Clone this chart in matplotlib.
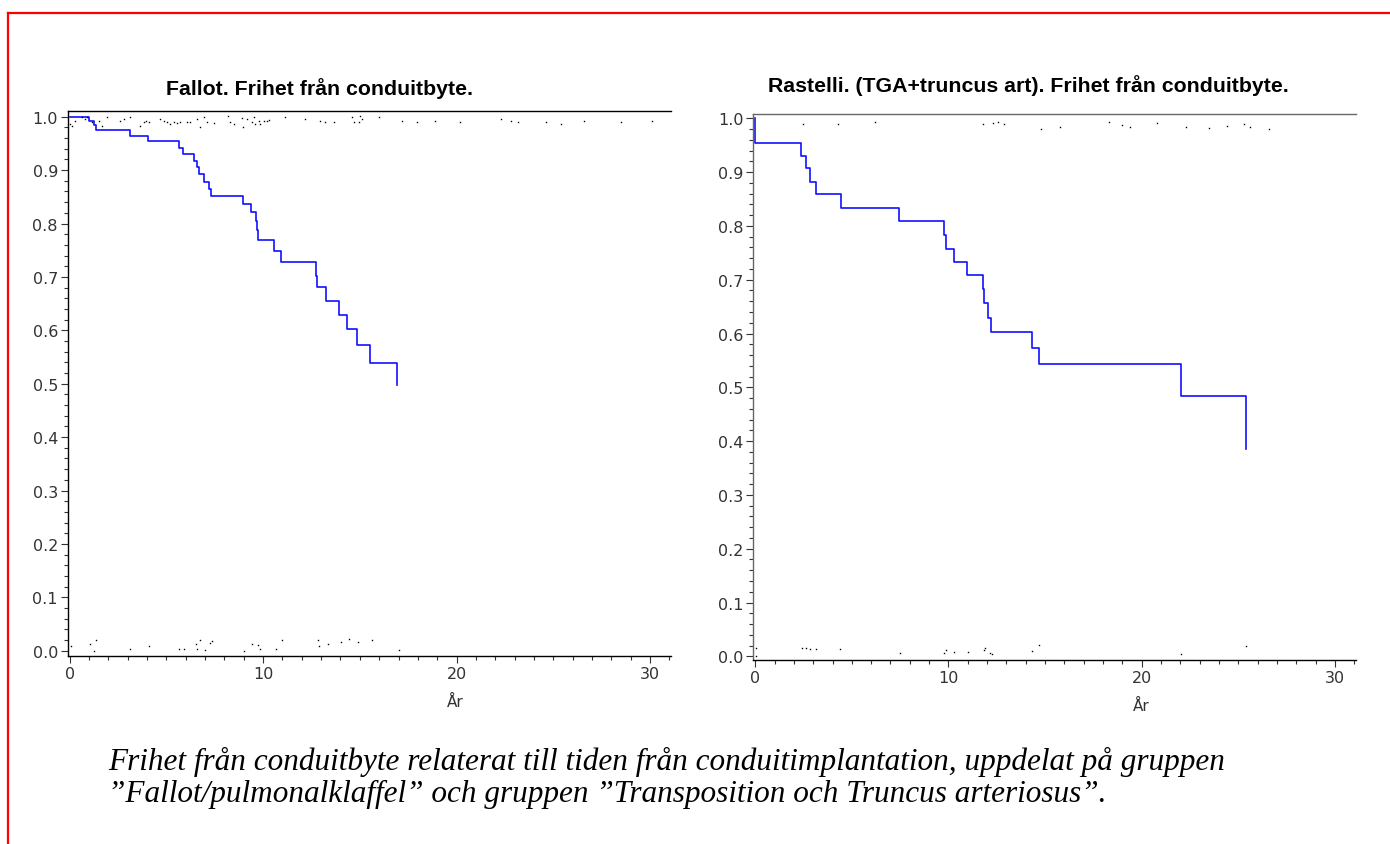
import matplotlib
matplotlib.use("Agg")
import matplotlib.pyplot as plt
from matplotlib.lines import Line2D
from matplotlib.ticker import MultipleLocator, FormatStrFormatter

# Fallot: Kaplan-Meier steps (years, survival)
fallot_t = [0, 1.02, 1.24, 1.38, 3.13, 4.04, 5.67, 5.88, 6.43, 6.57, 6.70, 6.96,
            7.22, 7.29, 8.94, 9.38, 9.61, 9.69, 9.76, 10.54, 10.95, 12.75, 12.80,
            13.23, 13.92, 14.35, 14.85, 15.54, 16.92]
fallot_s = [1.0, 0.9925, 0.9845, 0.9745, 0.9644, 0.9545, 0.9414, 0.9296, 0.917,
            0.905, 0.892, 0.878, 0.865, 0.852, 0.836, 0.822, 0.804, 0.787, 0.769,
            0.748, 0.727, 0.702, 0.681, 0.655, 0.628, 0.602, 0.572, 0.538, 0.498]

# Fallot: small marks at the top (censored) and bottom (events)
fallot_top_x = [0.04, 0.12, 0.29, 0.64, 0.81, 0.90, 1.16, 1.50, 1.67, 1.93, 2.62,
                2.79, 3.14, 3.62, 3.82, 3.95, 4.08, 4.69, 4.86, 5.03, 5.20, 5.37,
                5.55, 5.72, 6.07, 6.24, 6.58, 6.75, 6.93, 7.10, 7.44, 8.17, 8.31,
                8.48, 8.91, 8.96, 9.17, 9.43, 9.51, 9.60, 9.77, 9.86, 10.03, 10.20,
                10.28, 11.15, 12.18, 12.96, 13.21, 13.64, 14.59, 14.68, 14.94,
                15.02, 15.11, 15.97, 17.18, 17.95, 18.9, 20.2, 22.3, 22.8, 23.2,
                24.6, 25.4, 26.6, 28.5, 30.1]
fallot_top_y = [0.986, 0.983, 0.9925, 0.999, 0.996, 0.999, 0.9895, 0.9925, 0.983,
                1.0, 0.9925, 0.996, 1.0, 0.983, 0.9895, 0.9925, 0.9895, 0.995,
                0.9925, 0.9895, 0.986, 0.9895, 0.988, 0.991, 0.9895, 0.991, 0.996,
                0.980, 0.999, 0.9895, 0.988, 1.002, 0.9895, 0.986, 0.997, 0.980,
                0.996, 0.991, 0.999, 0.986, 0.9925, 0.986, 0.9925, 0.9925, 0.994,
                0.999, 0.996, 0.9925, 0.9895, 0.9895, 0.999, 0.991, 0.9895, 1.002,
                0.996, 0.999, 0.9925, 0.9895, 0.9925, 0.9895, 0.996, 0.9925, 0.991,
                0.9895, 0.986, 0.9925, 0.9895, 0.9925]
fallot_bot_x = [0.05, 1.04, 1.27, 1.34, 3.13, 4.12, 5.67, 5.90, 6.53, 6.60, 6.76,
                6.99, 7.25, 7.34, 9.03, 9.44, 9.72, 9.84, 10.65, 11.0, 12.85, 12.89,
                13.36, 14.05, 14.42, 14.93, 15.63, 17.01]
fallot_bot_y = [0.0086, 0.013, 0.0, 0.02, 0.0036, 0.0086, 0.0036, 0.0036, 0.013,
                0.0036, 0.02, 0.0014, 0.014, 0.018, 0.0, 0.013, 0.011, 0.0036,
                0.0036, 0.02, 0.02, 0.0086, 0.013, 0.016, 0.021, 0.016, 0.02, 0.0014]

# Rastelli (TGA + truncus art)
rast_t = [0, 0, 2.37, 2.63, 2.83, 3.13, 4.44, 7.46, 9.77, 9.86, 10.29, 10.98,
          11.78, 11.83, 12.06, 12.18, 14.32, 14.70, 22.06, 25.39]
rast_s = [1.0, 0.954, 0.930, 0.907, 0.882, 0.859, 0.834, 0.809, 0.783, 0.758,
          0.733, 0.708, 0.683, 0.656, 0.628, 0.603, 0.573, 0.543, 0.484, 0.385]

rast_top_x = [2.45, 4.27, 6.20, 11.78, 12.30, 12.56, 12.87, 14.80, 15.8, 18.3,
              19.0, 19.4, 20.8, 22.3, 23.5, 24.4, 25.3, 25.6, 26.6]
rast_top_y = [0.989, 0.989, 0.994, 0.989, 0.991, 0.9925, 0.989, 0.981, 0.984,
              0.993, 0.987, 0.983, 0.991, 0.984, 0.982, 0.985, 0.989, 0.983, 0.980]
rast_bot_x = [0.02, 0.02, 2.42, 2.65, 2.85, 3.15, 4.41, 7.49, 9.77, 9.89, 10.30,
              11.03, 11.83, 11.89, 12.17, 12.24, 14.34, 14.68, 22.05, 25.41]
rast_bot_y = [0.016, 0.0, 0.016, 0.015, 0.014, 0.014, 0.014, 0.006, 0.007, 0.011,
              0.008, 0.008, 0.011, 0.016, 0.006, 0.004, 0.009, 0.021, 0.004, 0.019]

caption = ("Frihet från conduitbyte relaterat till tiden från conduitimplantation, uppdelat på gruppen\n"
           "\u201dFallot/pulmonalklaffel\u201d och gruppen \u201dTransposition och Truncus arteriosus\u201d.")

W, H = 1390, 845
fig = plt.figure(figsize=(13.9, 8.45), dpi=100)
fig.patch.set_facecolor("white")


def px(x0, y0, x1, y1):
    # pixel box -> figure fraction rect
    return [x0 / W, 1 - y1 / H, (x1 - x0) / W, (y1 - y0) / H]


def setup(ax, ylim, spine_col):
    ax.set_xlim(-0.1, 31.07)
    ax.set_ylim(*ylim)
    ax.spines["right"].set_visible(False)
    ax.spines["top"].set_color(spine_col)
    ax.spines["left"].set_color(spine_col)
    ax.spines["bottom"].set_color("black")
    for s in ("top", "left", "bottom"):
        ax.spines[s].set_linewidth(1.0)
    ax.xaxis.set_major_locator(MultipleLocator(10))
    ax.xaxis.set_minor_locator(MultipleLocator(1))
    ax.yaxis.set_major_locator(MultipleLocator(0.1))
    ax.yaxis.set_minor_locator(MultipleLocator(0.02))
    ax.yaxis.set_major_formatter(FormatStrFormatter("%.1f"))
    ax.tick_params(which="major", direction="out", length=5, width=0.8,
                   labelsize=11.5, colors="#333333", pad=2)
    ax.tick_params(which="minor", direction="out", length=3, width=0.8,
                   colors="#333333")
    ax.tick_params(top=False, right=False)


ax1 = fig.add_axes(px(67.7, 112, 670.7, 657))
setup(ax1, (-0.0099, 1.0107), "black")
ax1.step(fallot_t, fallot_s, where="post", color="#1010ff", lw=1.2)
ax1.plot(fallot_top_x, fallot_top_y, ls="none", marker="s", ms=1.0,
         mec="black", mfc="black", mew=0)
ax1.plot(fallot_bot_x, fallot_bot_y, ls="none", marker="s", ms=1.0,
         mec="black", mfc="black", mew=0)

ax2 = fig.add_axes(px(753.3, 115, 1355.5, 661.3))
setup(ax2, (-0.0074, 1.008), "#666666")
ax2.step(rast_t, rast_s, where="post", color="#1010ff", lw=1.2)
ax2.plot(rast_top_x, rast_top_y, ls="none", marker="s", ms=1.0,
         mec="black", mfc="black", mew=0)
ax2.plot(rast_bot_x, rast_bot_y, ls="none", marker="s", ms=1.0,
         mec="black", mfc="black", mew=0)

title_font = dict(family="Liberation Sans", weight="bold", size=15.3)
fig.text(320 / W, 1 - 89 / H, "Fallot. Frihet från conduitbyte.",
         ha="center", va="center", **title_font)
fig.text(1028 / W, 1 - 86 / H, "Rastelli. (TGA+truncus art). Frihet från conduitbyte.",
         ha="center", va="center", **title_font)

fig.text(455 / W, 1 - 702 / H, "År", ha="center", va="center",
         fontsize=11, color="#333333")
fig.text(1141 / W, 1 - 706 / H, "År", ha="center", va="center",
         fontsize=11, color="#333333")

fig.text(108 / W, 1 - 778 / H, caption, ha="left", va="center",
         family="Liberation Serif", style="italic", size=22.5,
         linespacing=1.1)

# red frame (top and left edges)
fig.add_artist(Line2D([8 / W, 1.0], [1 - 13.5 / H, 1 - 13.5 / H],
                      transform=fig.transFigure, color="red", lw=1.6))
fig.add_artist(Line2D([8 / W, 8 / W], [1 - 13.5 / H, 0.0],
                      transform=fig.transFigure, color="red", lw=1.6))

fig.savefig("out.png", dpi=100, facecolor="white")
